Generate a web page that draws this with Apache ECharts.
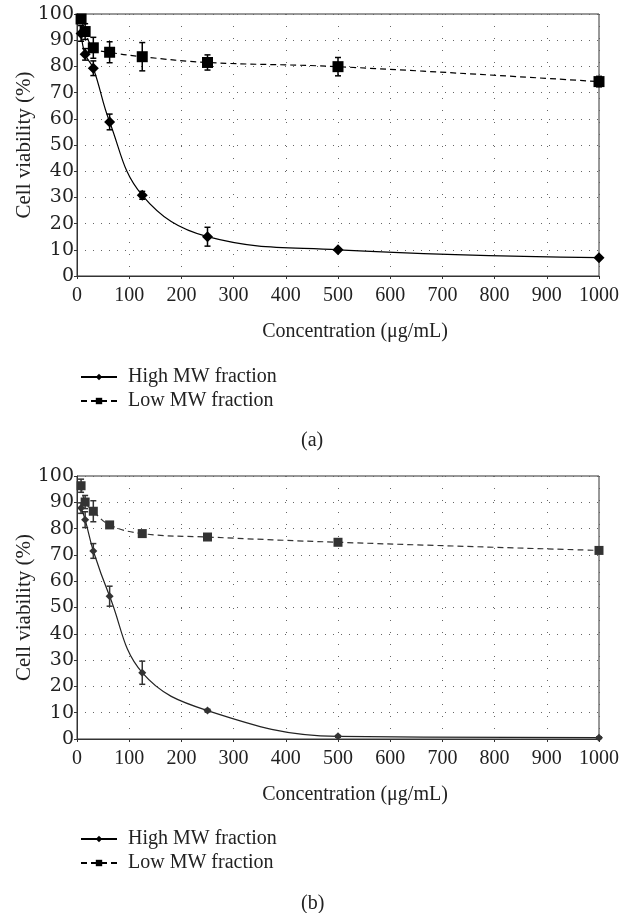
<!DOCTYPE html>
<html>
<head>
<meta charset="utf-8">
<script src="https://cdn.jsdelivr.net/npm/echarts@6/dist/echarts.min.js"></script>
<style>
  html, body { margin: 0; padding: 0; background: #fff; }
  #main { width: 633px; height: 913px; }
</style>
</head>
<body>
<div id="main"></div>
<script>
  // concentrations (ug/mL), same for both panels
  const concentrations = [7.8, 15.6, 31.25, 62.5, 125, 250, 500, 1000];

  // panel (a)
  const highA = [92.6, 84.6, 79.3, 58.8, 30.8, 15.0, 10.0, 7.0];
  const highAErr = [3.0, 2.2, 2.8, 3.0, 1.5, 3.6, 0.5, 0.5];
  const lowA = [98.1, 93.3, 87.1, 85.4, 83.7, 81.5, 79.9, 74.2];
  const lowAErr = [1.5, 3.0, 4.0, 4.0, 5.4, 2.9, 3.5, 2.0];

  // panel (b)
  const highB = [87.8, 83.4, 71.5, 54.3, 25.2, 10.8, 1.0, 0.5];
  const highBErr = [2.0, 3.0, 2.8, 3.8, 4.4, 0.5, 0.3, 0.3];
  const lowB = [96.3, 90.1, 86.6, 81.4, 78.1, 76.8, 74.8, 71.7];
  const lowBErr = [2.5, 2.5, 4.0, 0.8, 1.0, 0.5, 1.0, 1.0];

  const xTicks = [0, 100, 200, 300, 400, 500, 600, 700, 800, 900, 1000];
  const yTicks = [0, 10, 20, 30, 40, 50, 60, 70, 80, 90, 100];

  const HIGH = 'High MW fraction';
  const LOW = 'Low MW fraction';
  const serif = "'Liberation Serif', 'DejaVu Serif', serif";

  let chart = echarts.init(document.getElementById('main'));

  function pairs(vals) {
    return concentrations.map((c, i) => [c, vals[i]]);
  }

  function errRows(vals, errs) {
    return concentrations.map((c, i) => [c, vals[i] - errs[i], vals[i] + errs[i]]);
  }

  function errorSeries(idx, vals, errs, color) {
    return {
      type: 'custom',
      xAxisIndex: idx,
      yAxisIndex: idx,
      z: 1,
      silent: true,
      encode: {x: 0, y: [1, 2]},
      data: errRows(vals, errs),
      renderItem: function (params, api) {
        let x = api.value(0);
        let top = api.coord([x, api.value(2)]);
        let bot = api.coord([x, api.value(1)]);
        let w = 3;
        let st = {stroke: color, lineWidth: 1.5};
        return {
          type: 'group',
          children: [
            {type: 'line', shape: {x1: top[0], y1: top[1], x2: bot[0], y2: bot[1]}, style: st},
            {type: 'line', shape: {x1: top[0] - w, y1: top[1], x2: top[0] + w, y2: top[1]}, style: st},
            {type: 'line', shape: {x1: bot[0] - w, y1: bot[1], x2: bot[0] + w, y2: bot[1]}, style: st}
          ]
        };
      }
    };
  }

  function lineSeries(idx, name, vals, opts) {
    return {
      name: name,
      type: 'line',
      xAxisIndex: idx,
      yAxisIndex: idx,
      z: 3,
      data: pairs(vals),
      smooth: 0.4,
      symbol: opts.symbol,
      symbolSize: opts.size,
      showAllSymbol: true,
      itemStyle: {color: opts.markColor},
      lineStyle: {color: opts.lineColor, width: 1.2, type: opts.dash ? [6, 4] : 'solid'},
      emphasis: {disabled: true}
    };
  }

  function xAxis(idx) {
    return {
      type: 'value',
      gridIndex: idx,
      min: 0,
      max: 1000,
      interval: 100,
      name: 'Concentration (μg/mL)',
      nameLocation: 'middle',
      nameGap: 46,
      nameMoveOverlap: false,
      nameTextStyle: {fontFamily: serif, fontSize: 20, color: '#222', padding: [0, 0, 0, 34]},
      axisLine: {lineStyle: {color: '#333', width: 1}},
      axisTick: {show: true, length: 3, inside: false, lineStyle: {color: '#333'}},
      axisLabel: {
        fontFamily: serif, fontSize: 20, color: '#222', margin: 10,
        formatter: v => xTicks.indexOf(v) >= 0 ? String(v) : ''
      },
      splitLine: {show: true, lineStyle: {color: '#666', width: 1, type: [1, 11]}}
    };
  }

  function yAxis(idx) {
    return {
      type: 'value',
      gridIndex: idx,
      min: 0,
      max: 100,
      interval: 10,
      name: 'Cell viability (%)',
      nameLocation: 'middle',
      nameGap: 42,
      nameMoveOverlap: false,
      nameTextStyle: {fontFamily: serif, fontSize: 21, color: '#222'},
      axisLine: {show: true, lineStyle: {color: '#333', width: 1}},
      axisTick: {show: true, length: 3, lineStyle: {color: '#333'}},
      axisLabel: {
        fontFamily: "'DejaVu Serif', serif", fontSize: 19, color: '#222', margin: 3,
        formatter: v => yTicks.indexOf(v) >= 0 ? String(v) : ''
      },
      splitLine: {show: true, lineStyle: {color: '#666', width: 1, type: [1, 7]}}
    };
  }

  function legend(top) {
    return {
      data: [HIGH, LOW],
      orient: 'vertical',
      left: 75,
      top: top,
      itemWidth: 36,
      itemHeight: 8,
      itemGap: 4,
      selectedMode: false,
      textStyle: {fontFamily: serif, fontSize: 20, color: '#222', padding: [0, 0, 0, 6]}
    };
  }

  let option = {
    animation: false,
    backgroundColor: '#fff',
    grid: [
      {left: 77, right: 34, top: 14, height: 262, show: true, borderColor: '#333', borderWidth: 1},
      {left: 77, right: 34, top: 476, height: 263, show: true, borderColor: '#333', borderWidth: 1}
    ],
    xAxis: [xAxis(0), xAxis(1)],
    yAxis: [yAxis(0), yAxis(1)],
    legend: [legend(362), legend(824)],
    graphic: [
      {type: 'text', left: 301, top: 431, style: {text: '(a)', font: '20px ' + serif, fill: '#222'}},
      {type: 'text', left: 301, top: 894, style: {text: '(b)', font: '20px ' + serif, fill: '#222'}}
    ],
    series: [
      errorSeries(0, highA, highAErr, '#000'),
      errorSeries(0, lowA, lowAErr, '#000'),
      lineSeries(0, HIGH, highA, {symbol: 'diamond', size: 11, markColor: '#000', lineColor: '#000', dash: false}),
      lineSeries(0, LOW, lowA, {symbol: 'rect', size: 11, markColor: '#000', lineColor: '#000', dash: true}),

      errorSeries(1, highB, highBErr, '#333'),
      errorSeries(1, lowB, lowBErr, '#333'),
      lineSeries(1, HIGH, highB, {symbol: 'diamond', size: 8, markColor: '#333', lineColor: '#222', dash: false}),
      lineSeries(1, LOW, lowB, {symbol: 'rect', size: 9, markColor: '#333', lineColor: '#333', dash: true})
    ]
  };

  chart.setOption(option);
</script>
</body>
</html>
